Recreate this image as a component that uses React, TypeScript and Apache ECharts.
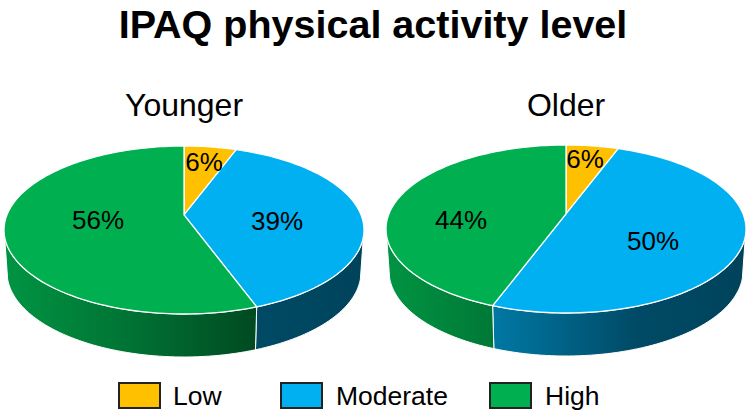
import React, { useEffect, useRef } from "react";
import * as echarts from "echarts";

const chartTitle = "IPAQ physical activity level";
const categories = ["Low", "Moderate", "High"];
const groups = ["Younger", "Older"];
const youngerValues = [5.6, 38.9, 55.6];
const olderValues = [5.6, 50.0, 44.4];

const FONT = '"Liberation Sans", Arial, sans-serif';
const topColors = ["#FFC000", "#00B0F0", "#00B050"];
const wallRgb = [[255, 192, 0], [0, 176, 240], [0, 176, 80]];
const wallShade = [[0, 0.84], [0.3, 0.68], [0.7, 0.42], [1, 0.38]];

// Perspective ellipse layout of the two discs
const pieLayouts = [
  { cx: 184, cy: 230, rx: 180, ry: 84, botRx: 177, botRy: 85, botCy: 272 },
  { cx: 566, cy: 229, rx: 180, ry: 84, botRx: 177, botRy: 85, botCy: 271 },
];
const tilt = -0.179;
const wallFrontStart = 105;
const wallFrontEnd = 255;
const labelOffsets = [
  [[20, -53], [93, 6], [-86, 5]],
  [[19, -55], [87, 27], [-105, 6]],
];
const legendLayout = [
  { box: 119, text: 173 },
  { box: 281, text: 336 },
  { box: 490, text: 545 },
];

// Projects a disc point (angle clockwise from the top) on the tilted ellipse
function project(deg: number, r: number, cx: number, cy: number, rx: number, ry: number) {
  const t = (deg * Math.PI) / 180;
  const u = Math.sin(t) * r;
  const v = -Math.cos(t) * r;
  const d = 1 + tilt * v;
  return [cx + (rx * u * Math.sqrt(1 - tilt * tilt)) / d, cy + (ry * (v + tilt)) / d];
}

function arc(a0: number, a1: number, cx: number, cy: number, rx: number, ry: number) {
  const n = Math.max(2, Math.ceil(Math.abs(a1 - a0) / 1.5));
  const pts: number[][] = [];
  for (let i = 0; i <= n; i++) pts.push(project(a0 + ((a1 - a0) * i) / n, 1, cx, cy, rx, ry));
  return pts;
}

function makeSeries(values: number[], pieIndex: number) {
  const L = pieLayouts[pieIndex];
  const total = values.reduce((s, x) => s + x, 0);
  return {
    type: "custom",
    coordinateSystem: "none",
    silent: true,
    name: groups[pieIndex],
    data: values.map((value, i) => ({ name: categories[i], value })),
    renderItem: (params: any, api: any) => {
      const i = params.dataIndex;
      const before = values.slice(0, i).reduce((s, x) => s + x, 0);
      const a0 = (before / total) * 360;
      const a1 = ((before + api.value(0)) / total) * 360;
      const top = arc(a0, a1, L.cx, L.cy, L.rx, L.ry);
      const apex = project(0, 0, L.cx, L.cy, L.rx, L.ry);
      const rgb = wallRgb[i];
      const wallFill = {
        type: "linear",
        x: L.cx - L.rx,
        y: 0,
        x2: L.cx + L.rx,
        y2: 0,
        global: true,
        colorStops: wallShade.map(([offset, f]) => ({
          offset,
          color: `rgb(${Math.round(rgb[0] * f)},${Math.round(rgb[1] * f)},${Math.round(rgb[2] * f)})`,
        })),
      };
      const children: any[] = [];
      const w0 = Math.max(a0, wallFrontStart);
      const w1 = Math.min(a1, wallFrontEnd);
      if (w1 > w0) {
        children.push({
          type: "polygon",
          z2: 1,
          shape: {
            points: [
              ...arc(w0, w1, L.cx, L.cy, L.rx, L.ry),
              ...arc(w0, w1, L.cx, L.botCy, L.botRx, L.botRy).reverse(),
            ],
          },
          style: { fill: wallFill, stroke: "#ffffff", lineWidth: 1 },
        });
      }
      children.push(
        {
          type: "polygon",
          z2: 2,
          shape: { points: [apex, ...top] },
          style: { fill: topColors[i], stroke: "#ffffff", lineWidth: 1.3, lineJoin: "round" },
        },
        {
          type: "text",
          z2: 3,
          x: L.cx + labelOffsets[pieIndex][i][0],
          y: apex[1] + labelOffsets[pieIndex][i][1],
          style: {
            text: `${Math.round(api.value(0))}%`,
            fontSize: 26,
            fontFamily: FONT,
            fill: "#000000",
            align: "center",
            verticalAlign: "middle",
          },
        }
      );
      return { type: "group", children };
    },
  };
}

export default function App() {
  const ref = useRef<HTMLDivElement>(null);
  useEffect(() => {
    document.body.style.margin = "0";
    const chart = echarts.init(ref.current!, undefined, { renderer: "svg" });
    chart.setOption({
      animation: false,
      backgroundColor: "#ffffff",
      title: [
        {
          text: chartTitle,
          left: 368,
          top: -1,
          textAlign: "center",
          textStyle: { fontFamily: FONT, fontSize: 39.5, fontWeight: "bold", color: "#000000" },
        },
        ...groups.map((g, i) => ({
          text: g,
          left: pieLayouts[i].cx - 5,
          top: 84,
          textAlign: "center",
          textStyle: { fontFamily: FONT, fontSize: 32, fontWeight: "normal", color: "#000000" },
        })),
      ],
      graphic: categories.flatMap((c, i) => [
        {
          type: "rect",
          silent: true,
          shape: { x: legendLayout[i].box, y: 383, width: 41, height: 25 },
          style: { fill: topColors[i], stroke: "#222222", lineWidth: 2 },
        },
        {
          type: "text",
          silent: true,
          x: legendLayout[i].text,
          y: 396,
          style: {
            text: c,
            fontSize: 26.5,
            fontFamily: FONT,
            fill: "#000000",
            align: "left",
            verticalAlign: "middle",
          },
        },
      ]),
      series: [makeSeries(youngerValues, 0), makeSeries(olderValues, 1)],
    });
    return () => chart.dispose();
  }, []);
  return <div ref={ref} style={{ width: 750, height: 413 }} />;
}
